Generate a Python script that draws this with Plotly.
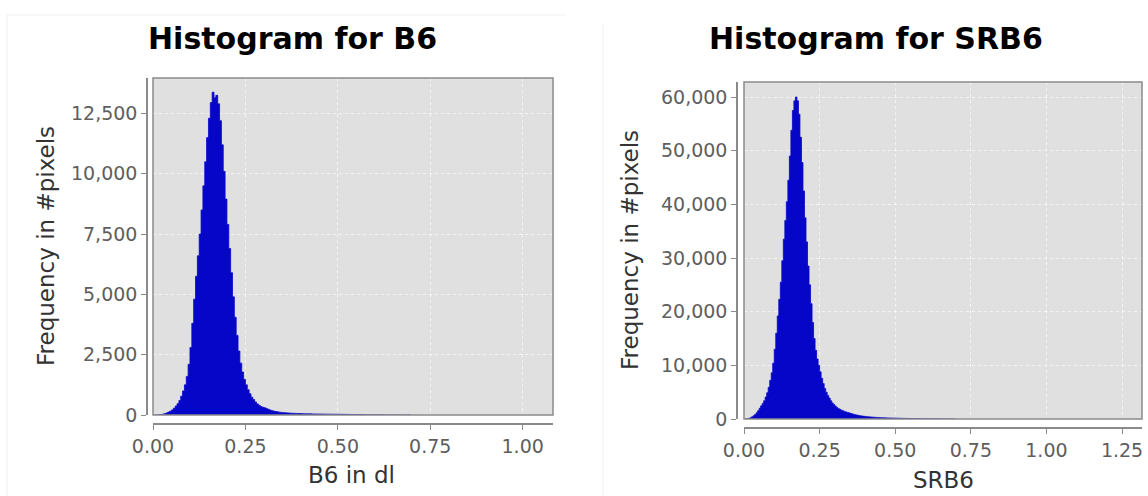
import numpy as np
import plotly.graph_objects as go

W, H = 1148, 496

# ---------------- data ----------------
bin_width = 0.005  # histogram bin width (both charts)

b6_counts = [
    0, 0, 5, 10, 20, 35, 55, 85, 120, 160,
    210, 280, 370, 470, 600, 780, 1000, 1250, 1600, 2100,
    2800, 3800, 4800, 5750, 6600, 7500, 8500, 9500, 10500, 11500,
    12300, 12950, 13380, 13150, 13250, 12900, 12200, 11200, 10100, 8950,
    7900, 6900, 5900, 4900, 4050, 3300, 2650, 2150, 1780, 1480,
    1250, 1050, 880, 740, 640, 540, 460, 400, 350, 320,
    300, 265, 235, 205, 180, 160, 145, 130, 118, 108,
    100, 94, 88, 82, 77, 72, 68, 65, 62, 60,
    57, 55, 53, 51, 49, 47, 45, 44, 42, 41,
    40, 38, 37, 36, 35, 34, 33, 32, 31, 30,
    29, 28, 27, 26, 25, 24, 23, 22, 21, 20,
    19, 18, 17, 16, 15, 14, 13, 12, 11, 10,
    9, 8, 7, 6, 6, 5, 5, 4, 4, 3,
    3, 2, 2, 2, 1, 1, 1, 1, 1, 0,
]

srb6_counts = [
    0, 20, 60, 120, 250, 400, 600, 850, 1150, 1550,
    2000, 2450, 2900, 3400, 4100, 4900, 5900, 7200, 8600, 10400,
    13000, 16000, 19200, 22300, 25500, 29500, 33500, 37000, 40500, 44500,
    49000, 53800, 57500, 59300, 60000, 59300, 56800, 52500, 47800, 42500,
    37500, 33000, 28500, 25000, 21500, 18000, 15000, 12800, 11200, 10000,
    8800, 7600, 6600, 5700, 5000, 4400, 3900, 3400, 3000, 2700,
    2400, 2150, 1950, 1800, 1650, 1530, 1420, 1320, 1230, 1150,
    1050, 960, 880, 810, 740, 680, 630, 580, 540, 500,
    470, 440, 410, 385, 360, 340, 320, 300, 285, 270,
    255, 240, 228, 216, 205, 195, 185, 175, 166, 158,
    150, 142, 135, 128, 121, 115, 109, 103, 98, 93,
    88, 83, 78, 74, 70, 66, 62, 58, 55, 52,
    49, 46, 43, 40, 37, 34, 31, 28, 26, 24,
    22, 20, 18, 16, 14, 12, 10, 8, 6, 4,
]

b6_xticks = [0.00, 0.25, 0.50, 0.75, 1.00]
b6_yticks = [0, 2500, 5000, 7500, 10000, 12500]
srb6_xticks = [0.00, 0.25, 0.50, 0.75, 1.00, 1.25]
srb6_yticks = [0, 10000, 20000, 30000, 40000, 50000, 60000]

titles = ["Histogram for B6", "Histogram for SRB6"]
x_titles = ["B6 in dl", "SRB6"]
y_title = "Frequency in #pixels"

# ---------------- helpers ----------------
def px(x):
    return x / W

def py(y):
    return 1 - y / H

BAR_COLOR = "#0606C8"
PLOT_BG = "#E0E0E0"
TICK_FONT = dict(family="DejaVu Sans", size=19, color="#5E5E5E")
AX_FONT = dict(family="DejaVu Sans", size=23, color="#333333")
TITLE_FONT = dict(family="DejaVu Sans", size=30, color="#000000")

b6_centers = (np.arange(len(b6_counts)) + 0.5) * bin_width
srb6_centers = (np.arange(len(srb6_counts)) + 0.5) * bin_width

fig = go.Figure()
# histogram drawn as a solid step outline (one shape per histogram, no seams)
for xs, ys, xa, ya in ((b6_centers, b6_counts, "x", "y"),
                       (srb6_centers, srb6_counts, "x2", "y2")):
    fig.add_trace(go.Scatter(
        x=xs, y=ys, mode="lines", line=dict(shape="hvh", color=BAR_COLOR, width=0.8),
        fill="tozeroy", fillcolor=BAR_COLOR,
        xaxis=xa, yaxis=ya, showlegend=False, hoverinfo="x+y"))

axis_common = dict(
    showline=True, linecolor="#8A8A8A", linewidth=1.5,
    ticks="outside", ticklen=5, tickwidth=1.2, tickcolor="#8A8A8A",
    showgrid=True, gridcolor="rgba(255,255,255,0.65)", gridwidth=1, griddash="dot",
    zeroline=False, tickfont=TICK_FONT, automargin=False,
)

# panel geometry (pixels)
L = dict(x0=153, x1=553, y0=78, y1=415, xline=424, yline=147)
R = dict(x0=744, x1=1142, y0=82, y1=419, xline=428, yline=737)

fig.update_layout(
    width=W, height=H,
    margin=dict(l=0, r=0, t=0, b=0, autoexpand=False),
    paper_bgcolor="white", plot_bgcolor=PLOT_BG,
    xaxis=dict(axis_common, domain=[px(L["x0"]), px(L["x1"])], anchor="free",
               position=py(L["xline"]), range=[0, 1.082],
               tickvals=b6_xticks, tickformat=".2f"),
    yaxis=dict(axis_common, domain=[py(L["y1"]), py(L["y0"])], anchor="free",
               position=px(L["yline"]), range=[0, 13970],
               tickvals=b6_yticks, tickformat=","),
    xaxis2=dict(axis_common, domain=[px(R["x0"]), px(R["x1"])], anchor="free",
                position=py(R["xline"]), range=[0, 1.316],
                tickvals=srb6_xticks, tickformat=".2f"),
    yaxis2=dict(axis_common, domain=[py(R["y1"]), py(R["y0"])], anchor="free",
                position=px(R["yline"]), range=[0, 62800],
                tickvals=srb6_yticks, tickformat=","),
)

shapes = []
# plot box borders
for xr, yr in (("x domain", "y domain"), ("x2 domain", "y2 domain")):
    shapes.append(dict(type="rect", xref=xr, yref=yr, x0=0, x1=1, y0=0, y1=1,
                       line=dict(color="#8A8A8A", width=1.5), layer="above"))
# faint chart-panel frames
shapes.append(dict(type="line", xref="paper", yref="paper",
                   x0=px(7), x1=px(566), y0=py(15), y1=py(15),
                   line=dict(color="#F0F0F0", width=1)))
shapes.append(dict(type="line", xref="paper", yref="paper",
                   x0=px(7), x1=px(7), y0=py(15), y1=py(496),
                   line=dict(color="#F0F0F0", width=1)))
shapes.append(dict(type="line", xref="paper", yref="paper",
                   x0=px(603), x1=px(603), y0=py(24), y1=py(496),
                   line=dict(color="#F0F0F0", width=1)))
fig.update_layout(shapes=shapes)

annotations = [
    dict(text="<b>%s</b>" % titles[0], x=px(292), y=py(38), font=TITLE_FONT),
    dict(text="<b>%s</b>" % titles[1], x=px(876), y=py(38), font=TITLE_FONT),
    dict(text=x_titles[0], x=px(351), y=py(475), font=AX_FONT),
    dict(text=x_titles[1], x=px(943), y=py(480), font=AX_FONT),
    dict(text=y_title, x=px(46), y=py(246), font=AX_FONT, textangle=-90),
    dict(text=y_title, x=px(630), y=py(250), font=AX_FONT, textangle=-90),
]
for a in annotations:
    a.update(xref="paper", yref="paper", showarrow=False,
             xanchor="center", yanchor="middle")
fig.update_layout(annotations=annotations)

fig.write_html(
    "out.html",
    config={"displayModeBar": False},
    post_script="document.body.style.margin='0';document.body.style.overflow='hidden';",
)
